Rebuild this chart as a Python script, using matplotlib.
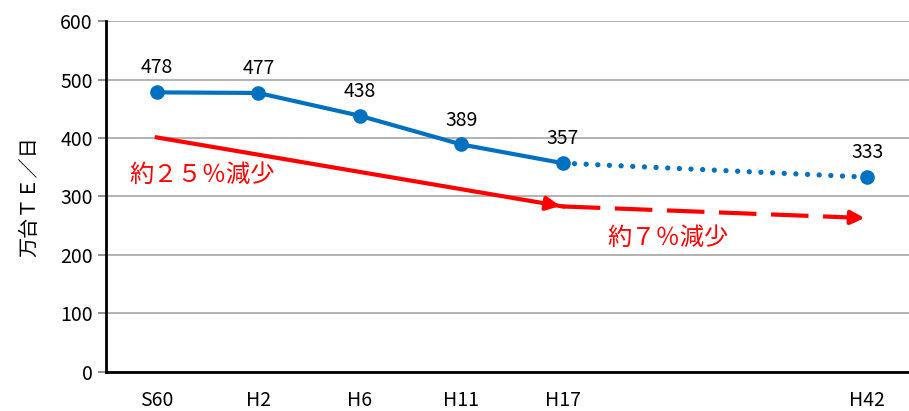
import matplotlib
matplotlib.use("Agg")
import matplotlib.pyplot as plt

plt.rcParams["font.family"] = ["Noto Sans CJK JP", "DejaVu Sans"]

BLUE = "#0070C0"
RED = "#FF0000"

# ── Data ──────────────────────────────────────────────
years = ["S60", "H2", "H6", "H11", "H17", "H42"]
year_pos = [0, 1, 2, 3, 4, 7]
traffic = [478, 477, 438, 389, 357, 333]

# red trend arrows (start, end)
trend_past_x = [0, 4]
trend_past_y = [401, 283]
trend_future_x = [4, 7]
trend_future_y = [283, 263]

fig = plt.figure(figsize=(9.09, 4.11), dpi=100)
ax = fig.add_axes([0.1166, 0.0949, 0.8834, 0.854])

# gridlines
ax.set_ylim(0, 600)
ax.set_xlim(-0.5, 7.41)
ax.set_yticks(range(0, 601, 100))
ax.yaxis.grid(True, color="#A6A6A6", linewidth=1.2)
ax.set_axisbelow(True)

# blue series: solid to H17, dotted to H42
ax.plot(year_pos[:5], traffic[:5], color=BLUE, lw=3, marker="o", markersize=9.5,
        solid_capstyle="round", zorder=3)
ax.plot(year_pos[4:], traffic[4:], color=BLUE, lw=3.8, dashes=(0.01, 2.2),
        dash_capstyle="round", zorder=3)
ax.plot(year_pos[-1], traffic[-1], color=BLUE, marker="o", markersize=9.5, zorder=4)

for x, v in zip(year_pos, traffic):
    ax.annotate(str(v), (x, v), xytext=(0, 10), textcoords="offset points",
                ha="center", va="bottom", fontsize=14)

# red trend: solid with arrow
ax.plot(trend_past_x, trend_past_y, color=RED, lw=3, zorder=2)
slope_p = (trend_past_y[1] - trend_past_y[0]) / (trend_past_x[1] - trend_past_x[0])
ax.annotate("", xy=(trend_past_x[1], trend_past_y[1]),
            xytext=(trend_past_x[1] - 0.15, trend_past_y[1] - 0.15 * slope_p),
            arrowprops=dict(arrowstyle="-|>", color=RED, lw=3, mutation_scale=20))

# red trend: dashed with arrow
ax.plot(trend_future_x, trend_future_y, color=RED, lw=3, dashes=(9, 3.5), zorder=2)
slope_f = (trend_future_y[1] - trend_future_y[0]) / (trend_future_x[1] - trend_future_x[0])
ax.annotate("", xy=(trend_future_x[1], trend_future_y[1]),
            xytext=(trend_future_x[1] - 0.15, trend_future_y[1] - 0.15 * slope_f),
            arrowprops=dict(arrowstyle="-|>", color=RED, lw=3, mutation_scale=20))

ax.text(-0.27, 337, "約２５％減少", color=RED, fontsize=17.5, va="center", ha="left",
        bbox=dict(facecolor="white", edgecolor="none", alpha=0.7, pad=1))
ax.text(4.44, 229, "約７％減少", color=RED, fontsize=17.5, va="center", ha="left",
        bbox=dict(facecolor="white", edgecolor="none", alpha=0.7, pad=1))

# axes styling
ax.set_xticks(year_pos)
ax.set_xticklabels(years)
ax.tick_params(axis="x", length=0, labelsize=14, pad=13)
ax.tick_params(axis="y", length=6, width=1.2, color="#7F7F7F", labelsize=14)
for s in ["top", "right"]:
    ax.spines[s].set_visible(False)
ax.spines["left"].set_linewidth(2)
ax.spines["bottom"].set_linewidth(2)

ax.set_ylabel("万台ＴＥ／日", fontsize=14.5, labelpad=14)

fig.savefig("out.png", dpi=100, facecolor="white")
